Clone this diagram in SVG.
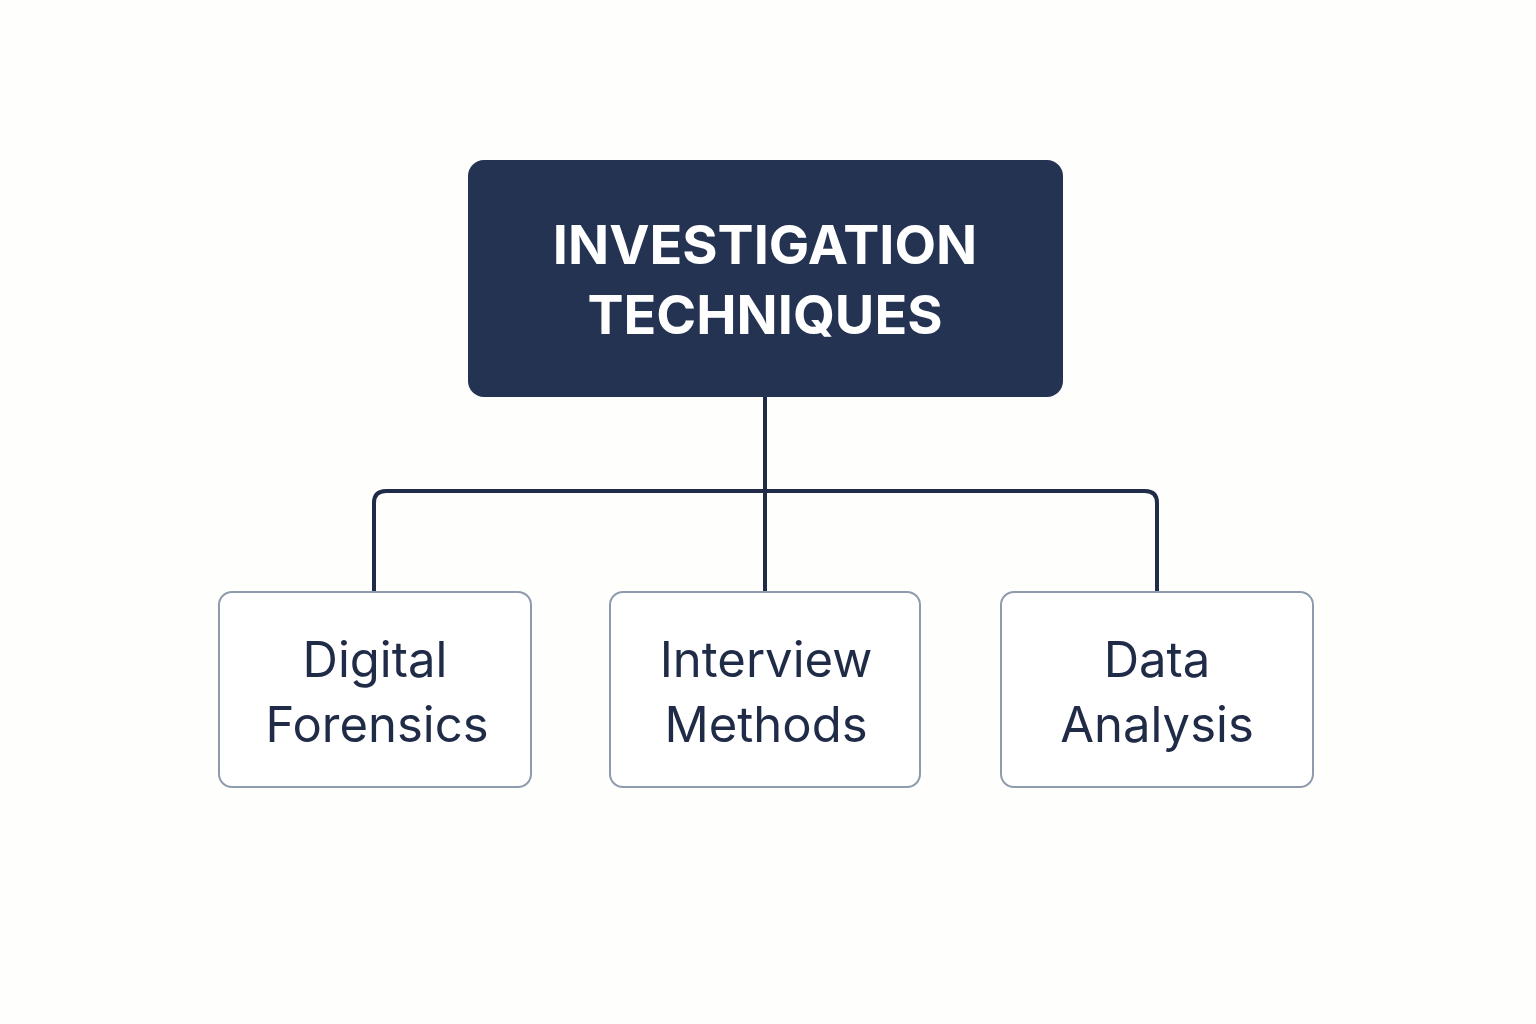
<svg xmlns="http://www.w3.org/2000/svg" width="1536" height="1024" viewBox="0 0 1536 1024">
<style>
.child rect{fill:#fff;stroke:#8e9bad;stroke-width:2}
.child text{font-family:Inter,"Liberation Sans",sans-serif;font-size:49px;fill:#1f2b47;text-anchor:middle}
.conn{fill:none;stroke:#1f2b47;stroke-width:4}
</style>
<rect width="1536" height="1024" fill="#fefefc"/>
<g id="root">
<rect x="468" y="160" width="595" height="237" rx="16" fill="#243352"/>
<text x="765" y="264" font-family="Inter,'Liberation Sans',sans-serif" font-weight="bold" font-size="54" fill="#fff" text-anchor="middle">INVESTIGATION</text>
<text x="765" y="334" font-family="Inter,'Liberation Sans',sans-serif" font-weight="bold" font-size="54" fill="#fff" text-anchor="middle">TECHNIQUES</text>
</g>
<g id="connectors">
<path class="conn" d="M765 397V592"/>
<path class="conn" d="M374 592V503Q374 491 386 491H1145Q1157 491 1157 503V592"/>
</g>
<g id="n1" class="child"><rect x="219" y="592" width="312" height="195" rx="13"/><text x="375" y="677">Digital</text><text x="377" y="742">Forensics</text></g>
<g id="n2" class="child"><rect x="610" y="592" width="310" height="195" rx="13"/><text x="766" y="677">Interview</text><text x="766" y="742">Methods</text></g>
<g id="n3" class="child"><rect x="1001" y="592" width="312" height="195" rx="13"/><text x="1157" y="677">Data</text><text x="1157" y="742">Analysis</text></g>
</svg>
